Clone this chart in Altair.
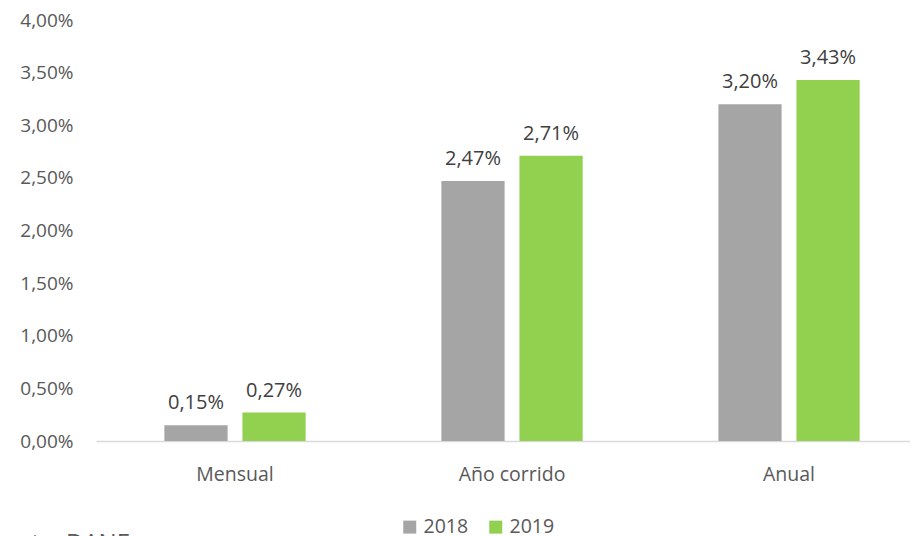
import altair as alt
import pandas as pd

categories = ["Mensual", "Año corrido", "Anual"]
years = ["2018", "2019"]
values_2018 = [0.15, 2.47, 3.20]
values_2019 = [0.27, 2.71, 3.43]
y_ticks = [0, 0.5, 1.0, 1.5, 2.0, 2.5, 3.0, 3.5, 4.0]
colors = ["#A5A5A5", "#92D050"]
FONT = "Open Sans"

rows = []
for c, a, b in zip(categories, values_2018, values_2019):
    rows.append({"cat": c, "year": "2018", "v": a})
    rows.append({"cat": c, "year": "2019", "v": b})
df = pd.DataFrame(rows)
df["lbl"] = df["v"].map(lambda v: f"{v:.2f}".replace(".", ",") + "%")

x = alt.X("cat:N", sort=categories, title=None,
          scale=alt.Scale(paddingInner=0.49, paddingOuter=0.2143, align=0.576),
          axis=alt.Axis(labelAngle=0, labelFont=FONT, labelFontSize=19.5,
                        labelColor="#595959", labelPadding=24, ticks=False,
                        domainColor="#D9D9D9", domainWidth=1.3))
xo = alt.XOffset("year:N", sort=years,
                 scale=alt.Scale(paddingInner=0.19, paddingOuter=0))
y = alt.Y("v:Q", title=None,
          scale=alt.Scale(domain=[0, 4], nice=False),
          axis=alt.Axis(values=y_ticks, grid=False, domain=False, ticks=False,
                        labelFont=FONT, labelFontSize=19, labelColor="#595959",
                        labelPadding=23,
                        labelExpr="replace(format(datum.value, '.2f'), '.', ',') + '%'"))
color = alt.Color("year:N", sort=years,
                  scale=alt.Scale(domain=years, range=colors),
                  legend=alt.Legend(title=None, orient="none", direction="horizontal",
                                    legendX=304, legendY=497,
                                    symbolType="square", symbolSize=169,
                                    symbolStrokeWidth=0,
                                    labelFont=FONT, labelFontSize=19.5,
                                    labelColor="#595959", labelOffset=4,
                                    columnPadding=17))

base = alt.Chart(df)
bars = base.mark_bar().encode(x=x, xOffset=xo, y=y, color=color)
labels = base.mark_text(dy=-16, baseline="alphabetic", font=FONT, fontSize=20,
                        color="#404040").encode(x=x, xOffset=xo, y=y, text="lbl")

footer = alt.Chart(pd.DataFrame({"t": ["Fuente: DANE"]})).mark_text(
    align="right", baseline="alphabetic", font=FONT, fontSize=24, color="#595959"
).encode(x=alt.value(34), y=alt.value(531), text="t")

chart = (bars + labels + footer).properties(
    width=814, height=421,
    autosize=alt.AutoSizeParams(type="none"),
    padding={"left": 88, "top": 12, "right": 0, "bottom": 100},
).configure_view(stroke=None)

chart.save("out.html", embed_options={"renderer": "svg", "actions": False})
